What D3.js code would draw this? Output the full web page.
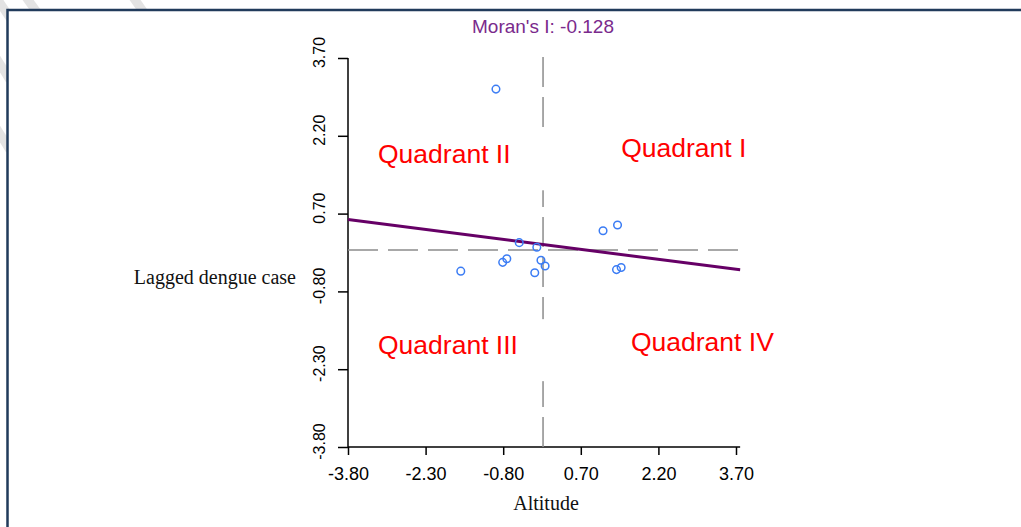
<!DOCTYPE html>
<html>
<head>
<meta charset="utf-8">
<script src="https://cdn.jsdelivr.net/npm/d3@7"></script>
<style>
  body { margin: 0; background: #fff; }
  svg { display: block; }
</style>
</head>
<body>
<svg id="chart" width="1021" height="527"></svg>
<script>
// moran scatterplot: standardized altitude vs lagged dengue case
var altitude = [-0.94, -1.62, -0.81, -0.73, -0.49, -0.15, -0.19, -0.07, 0.01, 1.13, 1.41, 1.39, 1.48];
var laggedCase = [3.10, -0.41, -0.24, -0.17, 0.14, 0.05, -0.44, -0.20, -0.31, 0.37, 0.48, -0.38, -0.34];

var xTicks = [-3.8, -2.3, -0.8, 0.7, 2.2, 3.7];
var yTicks = [-3.8, -2.3, -0.8, 0.7, 2.2, 3.7];
var xTickLabels = ["-3.80", "-2.30", "-0.80", "0.70", "2.20", "3.70"];
var yTickLabels = ["-3.80", "-2.30", "-0.80", "0.70", "2.20", "3.70"];

var moransI = -0.128;   // slope of the fitted line
var intercept = 0.10;
var meanX = -0.03;      // dashed reference lines
var meanY = 0;

var quadrantNames = ["Quadrant I", "Quadrant II", "Quadrant III", "Quadrant IV"];
var quadrantX = [1.48, -3.22, -3.22, 1.67];
var quadrantY = [1.79, 1.67, -2.01, -1.94];

var titleText = "Moran's I: -0.128";
var xTitle = "Altitude";
var yTitle = "Lagged dengue case";

var sans = "Arial, 'Liberation Sans', sans-serif";
var serif = "'Times New Roman', 'Liberation Serif', serif";

var svg = d3.select("#chart");

// faint watermark stripes peeking out at the top left
var stripes = [[-10, -12, 14, 24], [18, -14, 44, 22], [128, -10, 152, 24], [-14, 42, 10, 80], [-14, 112, 10, 150]];
svg.selectAll("line.stripe")
  .data(stripes)
  .enter()
  .append("line")
  .attr("class", "stripe")
  .attr("x1", function (d) { return d[0]; })
  .attr("y1", function (d) { return d[1]; })
  .attr("x2", function (d) { return d[2]; })
  .attr("y2", function (d) { return d[3]; })
  .attr("stroke", "#e3e3e3")
  .attr("stroke-width", 9);

// frame
svg.append("rect")
  .attr("x", 7.5)
  .attr("y", 10)
  .attr("width", 1030)
  .attr("height", 540)
  .attr("fill", "#fff")
  .attr("stroke", "#213b5b")
  .attr("stroke-width", 2.5);

var x = d3.scaleLinear().domain([-3.8, 3.7]).range([348, 736]);
var y = d3.scaleLinear().domain([-3.8, 3.7]).range([447, 58]);

var xMax = 3.78;
var yMax = 3.82;

// x axis
var xAxis = svg.append("g")
  .attr("transform", "translate(0," + y(-3.8) + ")")
  .call(d3.axisBottom(x)
    .tickValues(xTicks)
    .tickFormat(function (d, i) { return xTickLabels[i]; })
    .tickSize(8)
    .tickSizeOuter(0));
xAxis.select(".domain").remove();
xAxis.append("line")
  .attr("x1", x(-3.8)).attr("x2", x(xMax))
  .attr("stroke", "#000").attr("stroke-width", 1.5);
xAxis.selectAll(".tick line").attr("stroke", "#000").attr("stroke-width", 1.5);
xAxis.selectAll(".tick text")
  .attr("y", 33)
  .attr("dy", 0)
  .attr("fill", "#000")
  .style("font-family", sans)
  .style("font-size", "18px");

// y axis, rotated labels like base R
var yAxis = svg.append("g")
  .attr("transform", "translate(" + x(-3.8) + ",0)")
  .call(d3.axisLeft(y)
    .tickValues(yTicks)
    .tickFormat(function (d, i) { return yTickLabels[i]; })
    .tickSize(10)
    .tickSizeOuter(0));
yAxis.select(".domain").remove();
yAxis.append("line")
  .attr("y1", y(-3.8)).attr("y2", y(3.7))
  .attr("stroke", "#000").attr("stroke-width", 1.5);
yAxis.selectAll(".tick line").attr("stroke", "#000").attr("stroke-width", 1.5);
yAxis.selectAll(".tick text")
  .attr("transform", "rotate(-90)")
  .attr("x", 6)
  .attr("y", -23)
  .attr("dy", 0)
  .attr("text-anchor", "middle")
  .attr("fill", "#000")
  .style("font-family", sans)
  .style("font-size", "16px");

// dashed mean lines
svg.append("line")
  .attr("x1", x(-3.8)).attr("x2", x(xMax))
  .attr("y1", y(meanY)).attr("y2", y(meanY))
  .attr("stroke", "#8c8c8c")
  .attr("stroke-width", 1.5)
  .attr("stroke-dasharray", "30,10");
svg.append("line")
  .attr("x1", x(meanX)).attr("x2", x(meanX))
  .attr("y1", y(-3.8)).attr("y2", y(yMax))
  .attr("stroke", "#8c8c8c")
  .attr("stroke-width", 1.5)
  .attr("stroke-dasharray", "30,10");

// regression line
svg.append("line")
  .attr("x1", x(-3.8)).attr("y1", y(intercept + moransI * -3.8))
  .attr("x2", x(xMax)).attr("y2", y(intercept + moransI * xMax))
  .attr("stroke", "#660066")
  .attr("stroke-width", 3);

// points
svg.selectAll("circle.pt")
  .data(altitude)
  .enter()
  .append("circle")
  .attr("class", "pt")
  .attr("cx", function (d) { return x(d); })
  .attr("cy", function (d, i) { return y(laggedCase[i]); })
  .attr("r", 3.8)
  .attr("fill", "none")
  .attr("stroke", "#3b7cf4")
  .attr("stroke-width", 1.5);

// quadrant labels sit in white text boxes (II and III hide part of the vertical line)
var boxes = svg.selectAll("g.quad")
  .data(quadrantNames)
  .enter()
  .append("g")
  .attr("class", "quad");

boxes.filter(function (d, i) { return i == 1 || i == 2; })
  .append("rect")
  .attr("x", function (d, i) { return x(quadrantX[i + 1]) - 8; })
  .attr("y", function (d, i) { return y(quadrantY[i + 1]) - 35; })
  .attr("width", 180)
  .attr("height", 62)
  .attr("fill", "#fff");

boxes.append("text")
  .attr("x", function (d, i) { return x(quadrantX[i]); })
  .attr("y", function (d, i) { return y(quadrantY[i]); })
  .attr("fill", "#ff0000")
  .style("font-family", sans)
  .style("font-size", "26.5px")
  .text(function (d) { return d; });

// title + axis titles
svg.append("text")
  .attr("x", 543)
  .attr("y", 33)
  .attr("text-anchor", "middle")
  .attr("fill", "#7a2a8c")
  .style("font-family", sans)
  .style("font-size", "19px")
  .text(titleText);

svg.append("text")
  .attr("x", 546)
  .attr("y", 510)
  .attr("text-anchor", "middle")
  .attr("fill", "#111")
  .style("font-family", serif)
  .style("font-size", "20px")
  .text(xTitle);

svg.append("text")
  .attr("x", 296)
  .attr("y", 284)
  .attr("text-anchor", "end")
  .attr("fill", "#111")
  .style("font-family", serif)
  .style("font-size", "20px")
  .text(yTitle);
</script>
</body>
</html>
